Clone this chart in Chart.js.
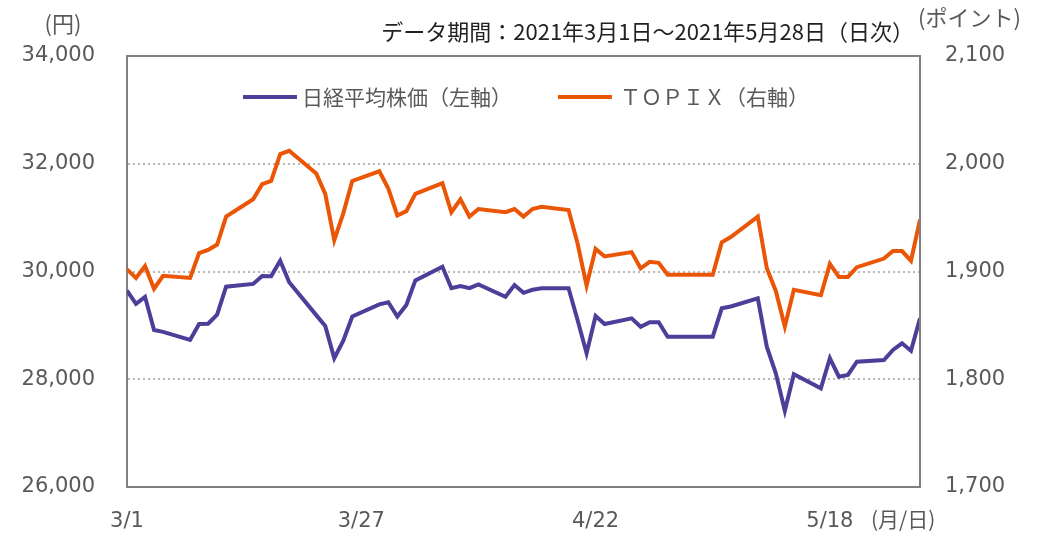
<!DOCTYPE html>
<html>
<head>
<meta charset="utf-8">
<script src="https://cdn.jsdelivr.net/npm/chart.js@4"></script>
<style>
  html, body { margin: 0; padding: 0; background: #fff; }
  #wrap { width: 1045px; height: 533px; }
</style>
</head>
<body>
<div id="wrap"><canvas id="c" width="1045" height="533"></canvas></div>
<script>
// dates (trading days; holidays 4/29, 5/3-5/5 carry the previous value)
const dates = [
  '3/1','3/2','3/3','3/4','3/5','3/8','3/9','3/10','3/11','3/12',
  '3/15','3/16','3/17','3/18','3/19','3/22','3/23','3/24','3/25','3/26',
  '3/29','3/30','3/31','4/1','4/2','4/5','4/6','4/7','4/8','4/9',
  '4/12','4/13','4/14','4/15','4/16','4/19','4/20','4/21','4/22','4/23',
  '4/26','4/27','4/28','4/29','4/30','5/3','5/4','5/5','5/6','5/7',
  '5/10','5/11','5/12','5/13','5/14','5/17','5/18','5/19','5/20','5/21',
  '5/24','5/25','5/26','5/27','5/28'
];
const nikkei = [
  29644, 29400, 29530, 28914, 28880, 28730, 29026, 29030, 29200, 29718,
  29770, 29916, 29914, 30200, 29800, 29190, 28990, 28390, 28716, 29165,
  29390, 29430, 29165, 29380, 29835, 30089, 29690, 29731, 29690, 29762,
  29532, 29749, 29605, 29660, 29688, 29688, 29100, 28482, 29174, 29026,
  29131, 28975, 29060, 29057, 28790, 28790, 28790, 28790, 29317, 29350,
  29503, 28604, 28110, 27416, 28092, 27832, 28389, 28048, 28079, 28326,
  28357, 28543, 28667, 28530, 29131
];
const topix = [
  1902, 1894, 1905, 1884, 1896, 1894, 1917, 1920, 1925, 1951,
  1967, 1981, 1984, 2009, 2012, 1991, 1972, 1929, 1954, 1984,
  1993, 1977, 1952, 1956, 1972, 1982, 1955, 1967, 1951, 1958,
  1955, 1958, 1951, 1958, 1960, 1957, 1926, 1887, 1921, 1914,
  1918, 1903, 1909, 1908, 1897, 1897, 1897, 1897, 1927, 1932,
  1951, 1903, 1882, 1849, 1883, 1878, 1907, 1895, 1895, 1904,
  1912, 1919, 1919, 1910, 1948
];
const xTickLabels = ['3/1', '3/27', '4/22', '5/18'];
const seriesNames = ['日経平均株価（左軸）', 'ＴＯＰＩＸ（右軸）'];
const seriesColors = ['#4b3f99', '#ea5506'];

const FONT = '"DejaVu Sans", "Noto Sans CJK JP", sans-serif';
const JFONT = '"Noto Sans CJK JP", sans-serif';
const GRAY = '#595959';

function dayOf(s) {
  const [m, d] = s.split('/').map(Number);
  const t0 = Date.UTC(2021, 2, 1);
  return Math.round((Date.UTC(2021, m - 1, d) - t0) / 86400000);
}
const xTickDays = xTickLabels.map(dayOf);

const extras = {
  id: 'extras',
  afterDraw(chart) {
    const { ctx, chartArea: a } = chart;
    ctx.save();
    // frame top and right
    ctx.strokeStyle = '#808080';
    ctx.lineWidth = 2;
    ctx.beginPath();
    ctx.moveTo(a.left, a.top); ctx.lineTo(a.right, a.top); ctx.lineTo(a.right, a.bottom);
    ctx.stroke();

    ctx.textBaseline = 'middle';
    ctx.font = '22px ' + JFONT;
    ctx.fillStyle = '#222';
    ctx.textAlign = 'right';
    ctx.fillText('データ期間：2021年3月1日～2021年5月28日（日次）', 914, 32);
    ctx.fillStyle = GRAY;
    ctx.textAlign = 'center';
    ctx.fillText('(円)', 63, 24);
    ctx.textAlign = 'left';
    ctx.fillText('(ポイント)', 918, 18);
    ctx.font = '21px ' + JFONT;
    ctx.fillText('(月/日)', 871, 519);

    // legend inside plot
    const items = [[243, 297, 302], [558, 612, 620]];
    chart.data.datasets.forEach((ds, i) => {
      const [x0, x1, tx] = items[i];
      ctx.strokeStyle = ds.borderColor;
      ctx.lineWidth = 4;
      ctx.beginPath(); ctx.moveTo(x0, 97); ctx.lineTo(x1, 97); ctx.stroke();
      ctx.fillStyle = GRAY;
      ctx.fillText(ds.label, tx, 97);
    });
    ctx.restore();
  }
};

new Chart(document.getElementById('c'), {
  type: 'line',
  data: {
    datasets: [
      {
        label: seriesNames[0],
        data: dates.map((d, i) => ({ x: dayOf(d), y: nikkei[i] })),
        borderColor: seriesColors[0],
        borderWidth: 4,
        pointRadius: 0,
        tension: 0,
        yAxisID: 'y'
      },
      {
        label: seriesNames[1],
        data: dates.map((d, i) => ({ x: dayOf(d), y: topix[i] })),
        borderColor: seriesColors[1],
        borderWidth: 4,
        pointRadius: 0,
        tension: 0,
        yAxisID: 'y1'
      }
    ]
  },
  options: {
    responsive: false,
    animation: false,
    layout: { padding: { top: 56, left: 0, right: 0, bottom: 0 } },
    plugins: { legend: { display: false }, tooltip: { enabled: false } },
    scales: {
      x: {
        type: 'linear',
        min: 0,
        max: 88,
        afterBuildTicks: (s) => { s.ticks = xTickDays.map(v => ({ value: v })); },
        afterFit: (s) => { s.height = 46; },
        ticks: {
          callback: (v) => xTickLabels[xTickDays.indexOf(v)] || '',
          font: { family: FONT, size: 21 },
          color: GRAY,
          padding: 22,
          maxRotation: 0,
          autoSkip: false
        },
        grid: { display: false, drawTicks: false },
        border: { display: true, color: '#808080', width: 2 }
      },
      y: {
        position: 'left',
        min: 26000,
        max: 34000,
        afterFit: (s) => { s.width = 127; },
        ticks: {
          stepSize: 2000,
          font: { family: FONT, size: 21 },
          color: GRAY,
          padding: 32,
          callback: (v) => v.toLocaleString('en-US')
        },
        grid: {
          drawTicks: false,
          color: (c) => (c.tick && (c.tick.value === 26000 || c.tick.value === 34000)) ? 'rgba(0,0,0,0)' : '#b8b8b8',
          lineWidth: 2
        },
        border: { display: true, color: '#808080', width: 2, dash: [2, 3] }
      },
      y1: {
        position: 'right',
        min: 1700,
        max: 2100,
        afterFit: (s) => { s.width = 125; },
        ticks: {
          stepSize: 100,
          font: { family: FONT, size: 21 },
          color: GRAY,
          padding: 25,
          callback: (v) => v.toLocaleString('en-US')
        },
        grid: { display: false, drawTicks: false },
        border: { display: false }
      }
    }
  },
  plugins: [extras]
});
</script>
</body>
</html>
